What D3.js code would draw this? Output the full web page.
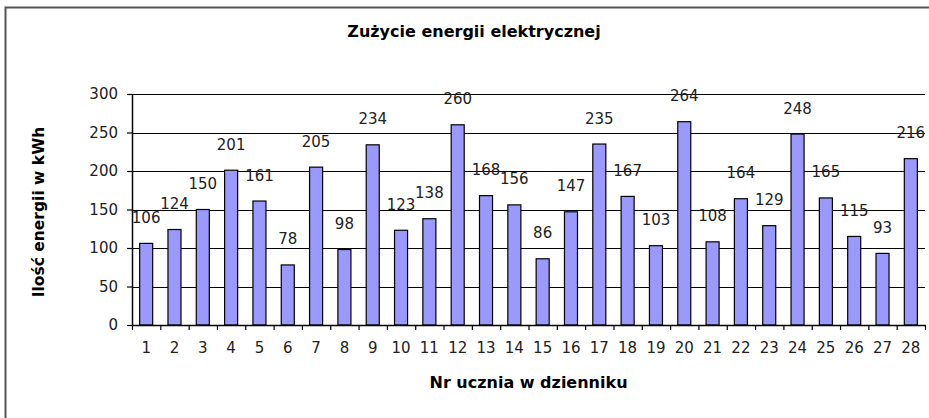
<!DOCTYPE html>
<html lang="pl">
<head>
<meta charset="utf-8">
<title>Zużycie energii elektrycznej</title>
<script src="https://d3js.org/d3.v7.min.js"></script>
<style>
  html, body { margin: 0; padding: 0; background: #fff; }
  svg { display: block; font-family: "DejaVu Sans", sans-serif; }
</style>
</head>
<body>
<div id="chart"></div>
<script>
// dane z wykresu
const students = d3.range(1, 29).map(String);
const usage = [106, 124, 150, 201, 161, 78, 205, 98, 234, 123, 138, 260, 168, 156,
               86, 147, 235, 167, 103, 264, 108, 164, 129, 248, 165, 115, 93, 216];
const yTicks = [0, 50, 100, 150, 200, 250, 300];

const chartTitle = "Zużycie energii elektrycznej";
const xTitle = "Nr ucznia w dzienniku";
const yTitle = "Ilość energii w kWh";

const width = 929, height = 418;
const margin = { top: 94, right: 4, bottom: 93, left: 132 };

const svg = d3.select("#chart").append("svg")
  .attr("width", width)
  .attr("height", height);

// ramka wykresu
svg.append("rect")
  .attr("x", 5.5).attr("y", 7.5)
  .attr("width", width).attr("height", height)
  .attr("fill", "none")
  .attr("stroke", "#555")
  .attr("stroke-width", 2);

const x = d3.scaleBand()
  .domain(students)
  .range([margin.left, width - margin.right])
  .paddingInner(0.54)
  .paddingOuter(0.27);

const y = d3.scaleLinear()
  .domain([0, 300])
  .range([height - margin.bottom, margin.top]);

// linie siatki
svg.append("g")
  .selectAll("line")
  .data(yTicks.slice(1))
  .join("line")
  .attr("x1", margin.left).attr("x2", width - margin.right)
  .attr("y1", d => Math.round(y(d)) + 0.5).attr("y2", d => Math.round(y(d)) + 0.5)
  .attr("stroke", "#000")
  .attr("stroke-width", 1.2);

// słupki
svg.append("g")
  .selectAll("rect")
  .data(usage)
  .join("rect")
  .attr("x", (d, i) => x(students[i]))
  .attr("y", d => y(d))
  .attr("width", x.bandwidth())
  .attr("height", d => y(0) - y(d))
  .attr("fill", "#9999ff")
  .attr("stroke", "#000")
  .attr("stroke-width", 1.2);

// etykiety wartości
svg.append("g")
  .selectAll("text")
  .data(usage)
  .join("text")
  .attr("x", (d, i) => x(students[i]) + x.bandwidth() / 2)
  .attr("y", d => y(d) - 25)
  .attr("text-anchor", "middle")
  .attr("dominant-baseline", "middle")
  .attr("font-size", 15)
  .attr("fill", "#222")
  .text(d => d);

// oś Y
svg.append("g")
  .attr("transform", `translate(${margin.left},0)`)
  .call(d3.axisLeft(y).tickValues(yTicks).tickSize(5).tickSizeOuter(0).tickPadding(9))
  .call(g => g.select(".domain").attr("stroke", "#000").attr("stroke-width", 1.5))
  .call(g => g.selectAll(".tick line").attr("stroke", "#000").attr("stroke-width", 1.2))
  .call(g => g.selectAll(".tick text").attr("font-size", 15).attr("fill", "#222")
    .attr("font-family", "DejaVu Sans, sans-serif"));

// oś X - kreski na granicach kategorii
const xEdge = d3.scaleLinear().domain([0, students.length]).range(x.range());
svg.append("g")
  .attr("transform", `translate(0,${y(0)})`)
  .call(d3.axisBottom(xEdge).ticks(students.length).tickSize(5).tickSizeOuter(0).tickFormat(""))
  .call(g => g.select(".domain").attr("stroke", "#000").attr("stroke-width", 1.5))
  .call(g => g.selectAll(".tick line").attr("stroke", "#000").attr("stroke-width", 1.2));

// oś X - opisy
svg.append("g")
  .attr("transform", `translate(0,${y(0)})`)
  .call(d3.axisBottom(x).tickSize(0).tickPadding(17))
  .call(g => g.select(".domain").remove())
  .call(g => g.selectAll(".tick text").attr("font-size", 15).attr("fill", "#222")
    .attr("font-family", "DejaVu Sans, sans-serif"));

// tytuły
svg.append("text")
  .attr("x", 474).attr("y", 32)
  .attr("text-anchor", "middle")
  .attr("dominant-baseline", "middle")
  .attr("font-size", 16)
  .attr("font-weight", "bold")
  .text(chartTitle);

svg.append("text")
  .attr("x", (x.range()[0] + x.range()[1]) / 2).attr("y", 383)
  .attr("text-anchor", "middle")
  .attr("dominant-baseline", "middle")
  .attr("font-size", 16)
  .attr("font-weight", "bold")
  .text(xTitle);

svg.append("text")
  .attr("transform", "translate(39,212) rotate(-90)")
  .attr("text-anchor", "middle")
  .attr("dominant-baseline", "middle")
  .attr("font-size", 15.5)
  .attr("font-weight", "bold")
  .text(yTitle);
</script>
</body>
</html>
